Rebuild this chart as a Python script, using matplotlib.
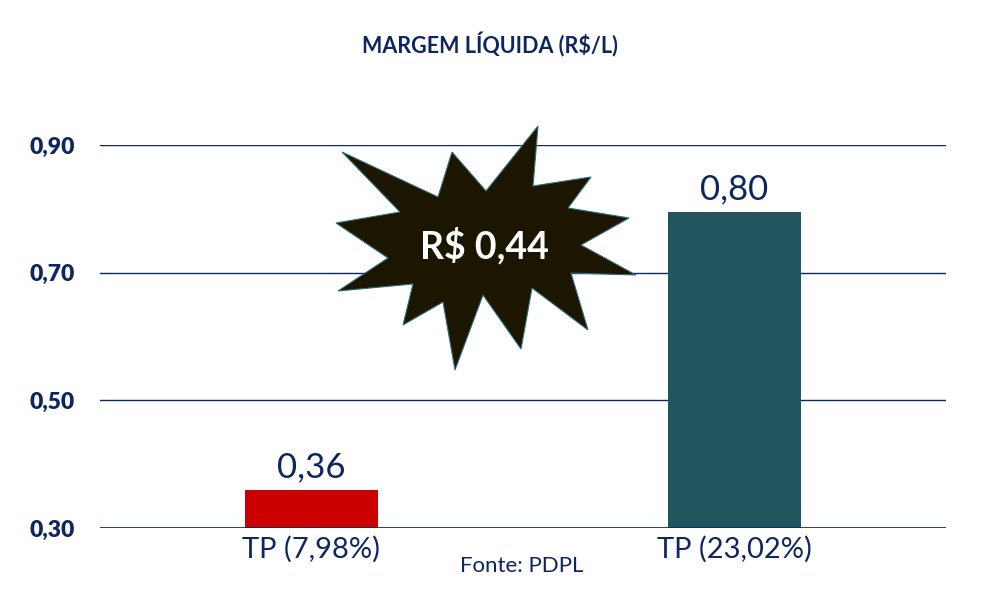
import matplotlib
matplotlib.use("Agg")
import matplotlib.pyplot as plt
from matplotlib.patches import Polygon

plt.rcParams["font.family"] = ["Lato", "DejaVu Sans"]

categories = ["TP (7,98%)", "TP (23,02%)"]
values = [0.36, 0.795]
value_labels = ["0,36", "0,80"]
bar_colors = ["#cc0000", "#21555e"]
yticks = [0.30, 0.50, 0.70, 0.90]
ytick_labels = ["0,30", "0,50", "0,70", "0,90"]
title = "MARGEM LÍQUIDA (R$/L)"
source = "Fonte: PDPL"
burst_text = "R$ 0,44"

navy = "#0d2660"
W, H = 986, 607

fig = plt.figure(figsize=(W / 100, H / 100), dpi=100)
ax = fig.add_axes([100 / W, 1 - 528 / H, 846 / W, (528 - 145) / H])

x = list(range(len(categories)))
ax.bar(x, values, width=0.315, color=bar_colors, bottom=0, zorder=2)
ax.set_xlim(-0.5, 1.5)
ax.set_ylim(0.30, 0.90)
ax.set_yticks(yticks)
ax.set_yticklabels(ytick_labels, fontsize=16.5, fontweight="heavy", color=navy)
ax.set_xticks(x)
ax.set_xticklabels(categories, fontsize=21, color=navy)
ax.tick_params(axis="y", length=0, pad=18)
ax.tick_params(axis="x", length=0, pad=6)
ax.grid(axis="y", color=navy, lw=1, zorder=1)
ax.set_axisbelow(True)
for s in ax.spines.values():
    s.set_visible(False)
ax.axhline(0.30, color=navy, lw=1.2, zorder=3)

for xi, v, lab in zip(x, values, value_labels):
    ax.annotate(lab, (xi, v), xytext=(0, 5), textcoords="offset points",
                ha="center", va="bottom", fontsize=25, color=navy)

fig.text(490 / W, 1 - 45 / H, title, ha="center", va="center",
         fontsize=15.5, fontweight="bold", color=navy)
fig.text(522 / W, 1 - 566 / H, source, ha="center", va="center",
         fontsize=16, color=navy)

# starburst (pixel outline of the callout shape)
burst_px = [(342, 152), (438, 197), (452, 152), (486, 191), (538, 126),
            (533, 186), (591, 177), (568, 208), (629, 218), (581, 245),
            (636, 275), (571, 273), (588, 330), (532, 288), (521, 349),
            (483, 295), (455, 370), (443, 302), (403, 325), (413, 284),
            (338, 291), (388, 258), (336, 223), (400, 212)]
burst = Polygon([(px / W, 1 - py / H) for px, py in burst_px], closed=True,
                transform=fig.transFigure, facecolor="#1c1500",
                edgecolor="#2e6b7a", lw=0.8, zorder=10)
fig.patches.append(burst)
fig.text(484 / W, 1 - 246 / H, burst_text, ha="center", va="center",
         fontsize=27, fontweight="bold", color="white", zorder=11)

fig.savefig("out.png", dpi=100)
